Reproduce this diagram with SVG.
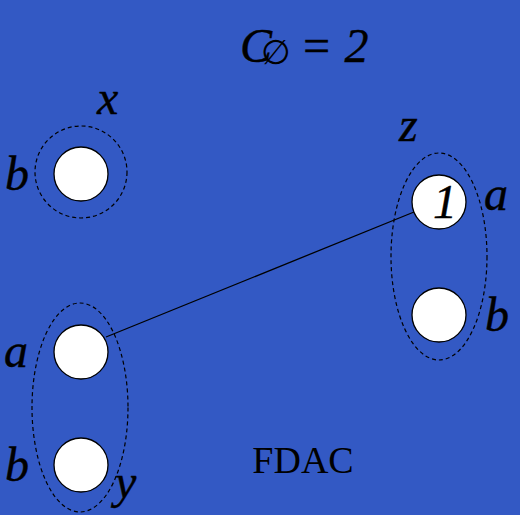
<svg xmlns="http://www.w3.org/2000/svg" width="520" height="515" viewBox="0 0 520 515">
<style>
.bg{fill:#3359c4}
.node{fill:#fff;stroke:#000;stroke-width:1.3}
.grp{fill:none;stroke:#000;stroke-width:1.2;stroke-dasharray:4 3}
.lbl{font-family:"Liberation Serif",serif;font-style:italic;font-size:48px;fill:#000;stroke:#000;stroke-width:0.4}
.edge{stroke:#000;stroke-width:1.3}
</style>
<rect class="bg" x="0" y="0" width="520" height="515"/>
<g id="title">
<text class="lbl" x="240" y="62" font-size="50">C</text>
<text x="261" y="64" font-family="DejaVu Serif,serif" font-size="34">∅</text>
<text class="lbl" x="300" y="62" font-size="44">= 2</text>
</g>
<g id="connectors">
<line class="edge" x1="106" y1="337" x2="414" y2="212"/>
</g>
<g id="group-x">
<circle class="grp" cx="81" cy="172" r="46"/>
<text class="lbl" x="97" y="114">x</text>
<text class="lbl" x="5" y="190">b</text>
</g>
<g id="node-x-b"><circle class="node" cx="81" cy="174" r="27"/></g>
<g id="group-z">
<ellipse class="grp" cx="439" cy="256.5" rx="48" ry="103.5"/>
<text class="lbl" x="399" y="141">z</text>
<text class="lbl" x="484" y="210">a</text>
<text class="lbl" x="485" y="331">b</text>
</g>
<g id="node-z-a"><circle class="node" cx="439" cy="202" r="27"/><text class="lbl" x="445" y="218" font-size="44" text-anchor="middle">1</text></g>
<g id="node-z-b"><circle class="node" cx="439" cy="315" r="27"/></g>
<g id="group-y">
<ellipse class="grp" cx="80" cy="407.5" rx="48" ry="104.5"/>
<text class="lbl" x="4" y="367">a</text>
<text class="lbl" x="5" y="481">b</text>
<text class="lbl" x="115" y="498">y</text>
</g>
<g id="node-y-a"><circle class="node" cx="81" cy="352" r="27"/></g>
<g id="node-y-b"><circle class="node" cx="81" cy="465" r="27"/></g>
<text x="303" y="473" font-family="Liberation Serif,serif" font-size="38" text-anchor="middle">FDAC</text>
</svg>
